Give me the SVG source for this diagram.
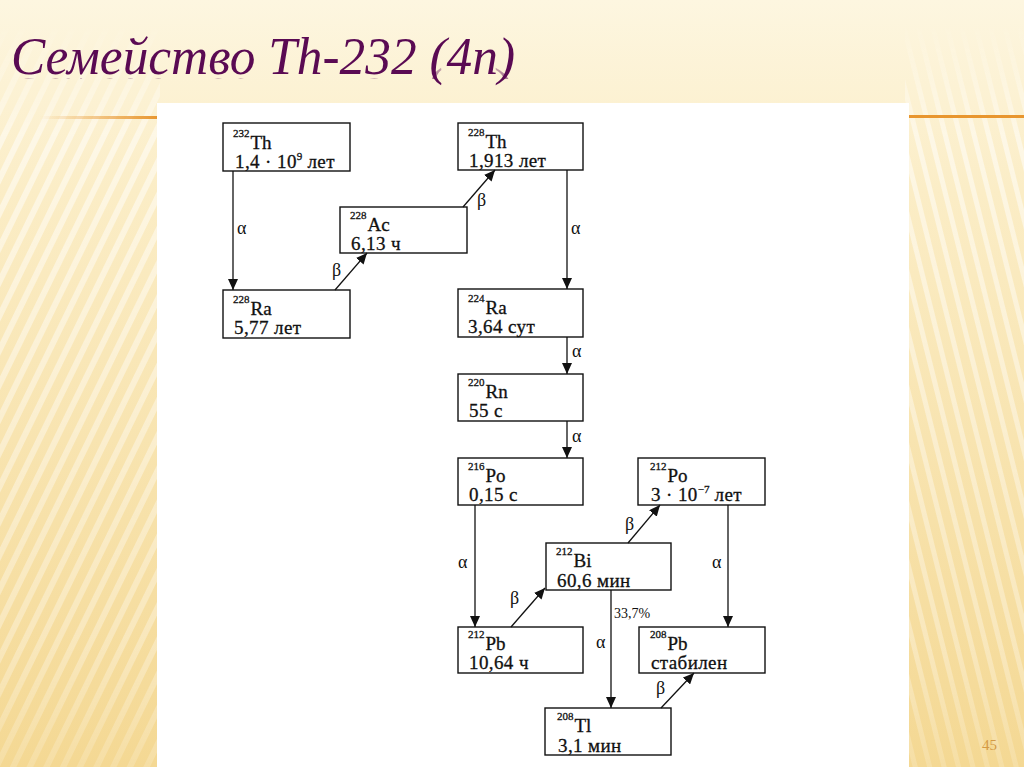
<svg xmlns="http://www.w3.org/2000/svg" xmlns:xlink="http://www.w3.org/1999/xlink" width="1024" height="767" viewBox="0 0 1024 767">
<defs>
<style>
.box{fill:#fff;stroke:#111;stroke-width:1.4}
.t{font-family:"Liberation Serif","Times New Roman",serif;fill:#111;stroke:#111;stroke-width:0.3}
.sup{font-size:11px}
.sym{font-size:19px}
.l2{font-size:19px;letter-spacing:0.4px}
.lab{font-family:"Liberation Serif","Times New Roman",serif;font-size:18px;fill:#111}
.pct{font-family:"Liberation Serif","Times New Roman",serif;font-size:14px;fill:#111}
.con line{stroke:#111;stroke-width:1.3;marker-end:url(#ah)}
</style>
<marker id="ah" markerUnits="userSpaceOnUse" markerWidth="12" markerHeight="10" refX="11" refY="5" orient="auto">
<path d="M0,0 L11,5 L0,10 Z" fill="#111"/>
</marker>
<linearGradient id="bg" x1="0" y1="0" x2="0" y2="1">
<stop offset="0" stop-color="#fdf6e0"/>
<stop offset="0.25" stop-color="#fbedc6"/>
<stop offset="1" stop-color="#f4d893"/>
</linearGradient>
<pattern id="stL" width="15" height="15" patternUnits="userSpaceOnUse" patternTransform="rotate(26)">
<rect x="0" y="0" width="6" height="15" fill="#fff"/>
</pattern>
<pattern id="stR" width="14" height="14" patternUnits="userSpaceOnUse" patternTransform="rotate(-14)">
<rect x="0" y="0" width="5" height="14" fill="#fff"/>
</pattern>
<linearGradient id="fadeG" x1="0" y1="0" x2="0" y2="767" gradientUnits="userSpaceOnUse">
<stop offset="0.03" stop-color="#000"/>
<stop offset="0.18" stop-color="#fff"/>
<stop offset="0.85" stop-color="#999"/>
<stop offset="1" stop-color="#555"/>
</linearGradient>
<mask id="fade"><rect width="1024" height="767" fill="url(#fadeG)"/></mask>
<linearGradient id="reflG" x1="0" y1="76" x2="0" y2="102" gradientUnits="userSpaceOnUse">
<stop offset="0" stop-color="#bbb"/>
<stop offset="1" stop-color="#000"/>
</linearGradient>
<mask id="refl"><rect x="0" y="74" width="600" height="30" fill="url(#reflG)"/></mask>
<linearGradient id="lineL" x1="40" y1="0" x2="157" y2="0" gradientUnits="userSpaceOnUse">
<stop offset="0" stop-color="#e8962f" stop-opacity="0"/>
<stop offset="1" stop-color="#e8962f"/>
</linearGradient>
</defs>

<g id="background">
<rect width="1024" height="767" fill="url(#bg)"/>
<g mask="url(#fade)" opacity="0.5">
<rect x="0" y="0" width="160" height="767" fill="url(#stL)"/>
<rect x="905" y="0" width="119" height="767" fill="url(#stR)"/>
</g>
<rect x="40" y="116" width="117" height="3" fill="url(#lineL)"/>
<rect x="909" y="115" width="115" height="3" fill="#e8962f"/>
<rect x="157" y="103" width="752" height="664" fill="#fff"/>
</g>

<g id="title">
<text id="titleText" x="11" y="74" font-family="Liberation Serif, Times New Roman, serif" font-style="italic" font-size="52" fill="#5a0a53" textLength="504" lengthAdjust="spacingAndGlyphs">Семейство Th-232 (4n)</text>
<use xlink:href="#titleText" transform="matrix(1 0 0 -1 0 153)" mask="url(#refl)" opacity="0.7"/>
</g>

<g id="n-th232">
<rect class="box" x="223" y="123" width="127" height="48"/>
<text class="t" x="233" y="149"><tspan class="sup" dy="-12">232</tspan><tspan class="sym" dy="12" dx="1">Th</tspan><tspan class="l2" x="235" dy="19">1,4 · 10</tspan><tspan class="sup" dy="-8">9</tspan><tspan class="l2" dy="8"> лет</tspan></text>
</g>
<g id="n-th228">
<rect class="box" x="458" y="123" width="125" height="47"/>
<text class="t" x="468" y="148"><tspan class="sup" dy="-12">228</tspan><tspan class="sym" dy="12" dx="1">Th</tspan><tspan class="l2" x="469" dy="19">1,913 лет</tspan></text>
</g>
<g id="n-ac228">
<rect class="box" x="340" y="207" width="127" height="46"/>
<text class="t" x="350" y="231"><tspan class="sup" dy="-12">228</tspan><tspan class="sym" dy="12" dx="1">Ac</tspan><tspan class="l2" x="351" dy="19">6,13 ч</tspan></text>
</g>
<g id="n-ra228">
<rect class="box" x="223" y="290" width="127" height="48"/>
<text class="t" x="233" y="315"><tspan class="sup" dy="-12">228</tspan><tspan class="sym" dy="12" dx="1">Ra</tspan><tspan class="l2" x="234" dy="19">5,77 лет</tspan></text>
</g>
<g id="n-ra224">
<rect class="box" x="458" y="289" width="125" height="48"/>
<text class="t" x="468" y="314"><tspan class="sup" dy="-12">224</tspan><tspan class="sym" dy="12" dx="1">Ra</tspan><tspan class="l2" x="468" dy="19">3,64 сут</tspan></text>
</g>
<g id="n-rn220">
<rect class="box" x="458" y="374" width="125" height="47"/>
<text class="t" x="468" y="398"><tspan class="sup" dy="-12">220</tspan><tspan class="sym" dy="12" dx="1">Rn</tspan><tspan class="l2" x="469" dy="19">55 с</tspan></text>
</g>
<g id="n-po216">
<rect class="box" x="458" y="458" width="125" height="47"/>
<text class="t" x="468" y="482"><tspan class="sup" dy="-12">216</tspan><tspan class="sym" dy="12" dx="1">Po</tspan><tspan class="l2" x="469" dy="19">0,15 с</tspan></text>
</g>
<g id="n-po212">
<rect class="box" x="638" y="458" width="127" height="47"/>
<text class="t" x="650" y="482"><tspan class="sup" dy="-12">212</tspan><tspan class="sym" dy="12" dx="1">Po</tspan><tspan class="l2" x="651" dy="19">3 · 10</tspan><tspan class="sup" dy="-8">−7</tspan><tspan class="l2" dy="8"> лет</tspan></text>
</g>
<g id="n-bi212">
<rect class="box" x="546" y="543" width="125" height="47"/>
<text class="t" x="556" y="567"><tspan class="sup" dy="-12">212</tspan><tspan class="sym" dy="12" dx="1">Bi</tspan><tspan class="l2" x="557" dy="20">60,6 мин</tspan></text>
</g>
<g id="n-pb212">
<rect class="box" x="458" y="627" width="125" height="46"/>
<text class="t" x="468" y="650"><tspan class="sup" dy="-12">212</tspan><tspan class="sym" dy="12" dx="1">Pb</tspan><tspan class="l2" x="469" dy="19">10,64 ч</tspan></text>
</g>
<g id="n-pb208">
<rect class="box" x="639" y="627" width="126" height="46"/>
<text class="t" x="650" y="650"><tspan class="sup" dy="-12">208</tspan><tspan class="sym" dy="12" dx="1">Pb</tspan><tspan class="l2" x="651" dy="19">стабилен</tspan></text>
</g>
<g id="n-tl208">
<rect class="box" x="545" y="708" width="126" height="47"/>
<text class="t" x="557" y="732"><tspan class="sup" dy="-12">208</tspan><tspan class="sym" dy="12" dx="1">Tl</tspan><tspan class="l2" x="558" dy="20">3,1 мин</tspan></text>
</g>

<g id="connectors" class="con">
<line x1="233" y1="171" x2="233" y2="290"/>
<line x1="335" y1="290" x2="367" y2="253"/>
<line x1="463" y1="207" x2="495" y2="170"/>
<line x1="567" y1="170" x2="567" y2="289"/>
<line x1="567" y1="337" x2="567" y2="374"/>
<line x1="567" y1="421" x2="567" y2="458"/>
<line x1="475" y1="505" x2="475" y2="627"/>
<line x1="511" y1="627" x2="545" y2="588"/>
<line x1="628" y1="543" x2="660" y2="505"/>
<line x1="728" y1="505" x2="728" y2="627"/>
<line x1="611" y1="590" x2="611" y2="708"/>
<line x1="661" y1="708" x2="694" y2="673"/>
</g>

<g id="labels">
<text class="lab" x="237" y="234">α</text>
<text class="lab" x="332" y="276">β</text>
<text class="lab" x="477" y="206">β</text>
<text class="lab" x="571" y="234">α</text>
<text class="lab" x="572" y="357">α</text>
<text class="lab" x="572" y="442">α</text>
<text class="lab" x="458" y="568">α</text>
<text class="lab" x="510" y="604">β</text>
<text class="lab" x="625" y="530">β</text>
<text class="lab" x="712" y="568">α</text>
<text class="pct" x="614" y="618">33,7%</text>
<text class="lab" x="596" y="648">α</text>
<text class="lab" x="656" y="694">β</text>
</g>

<text id="page" x="982" y="750" font-family="Liberation Serif, Times New Roman, serif" font-size="15" fill="#d49a45">45</text>
</svg>
